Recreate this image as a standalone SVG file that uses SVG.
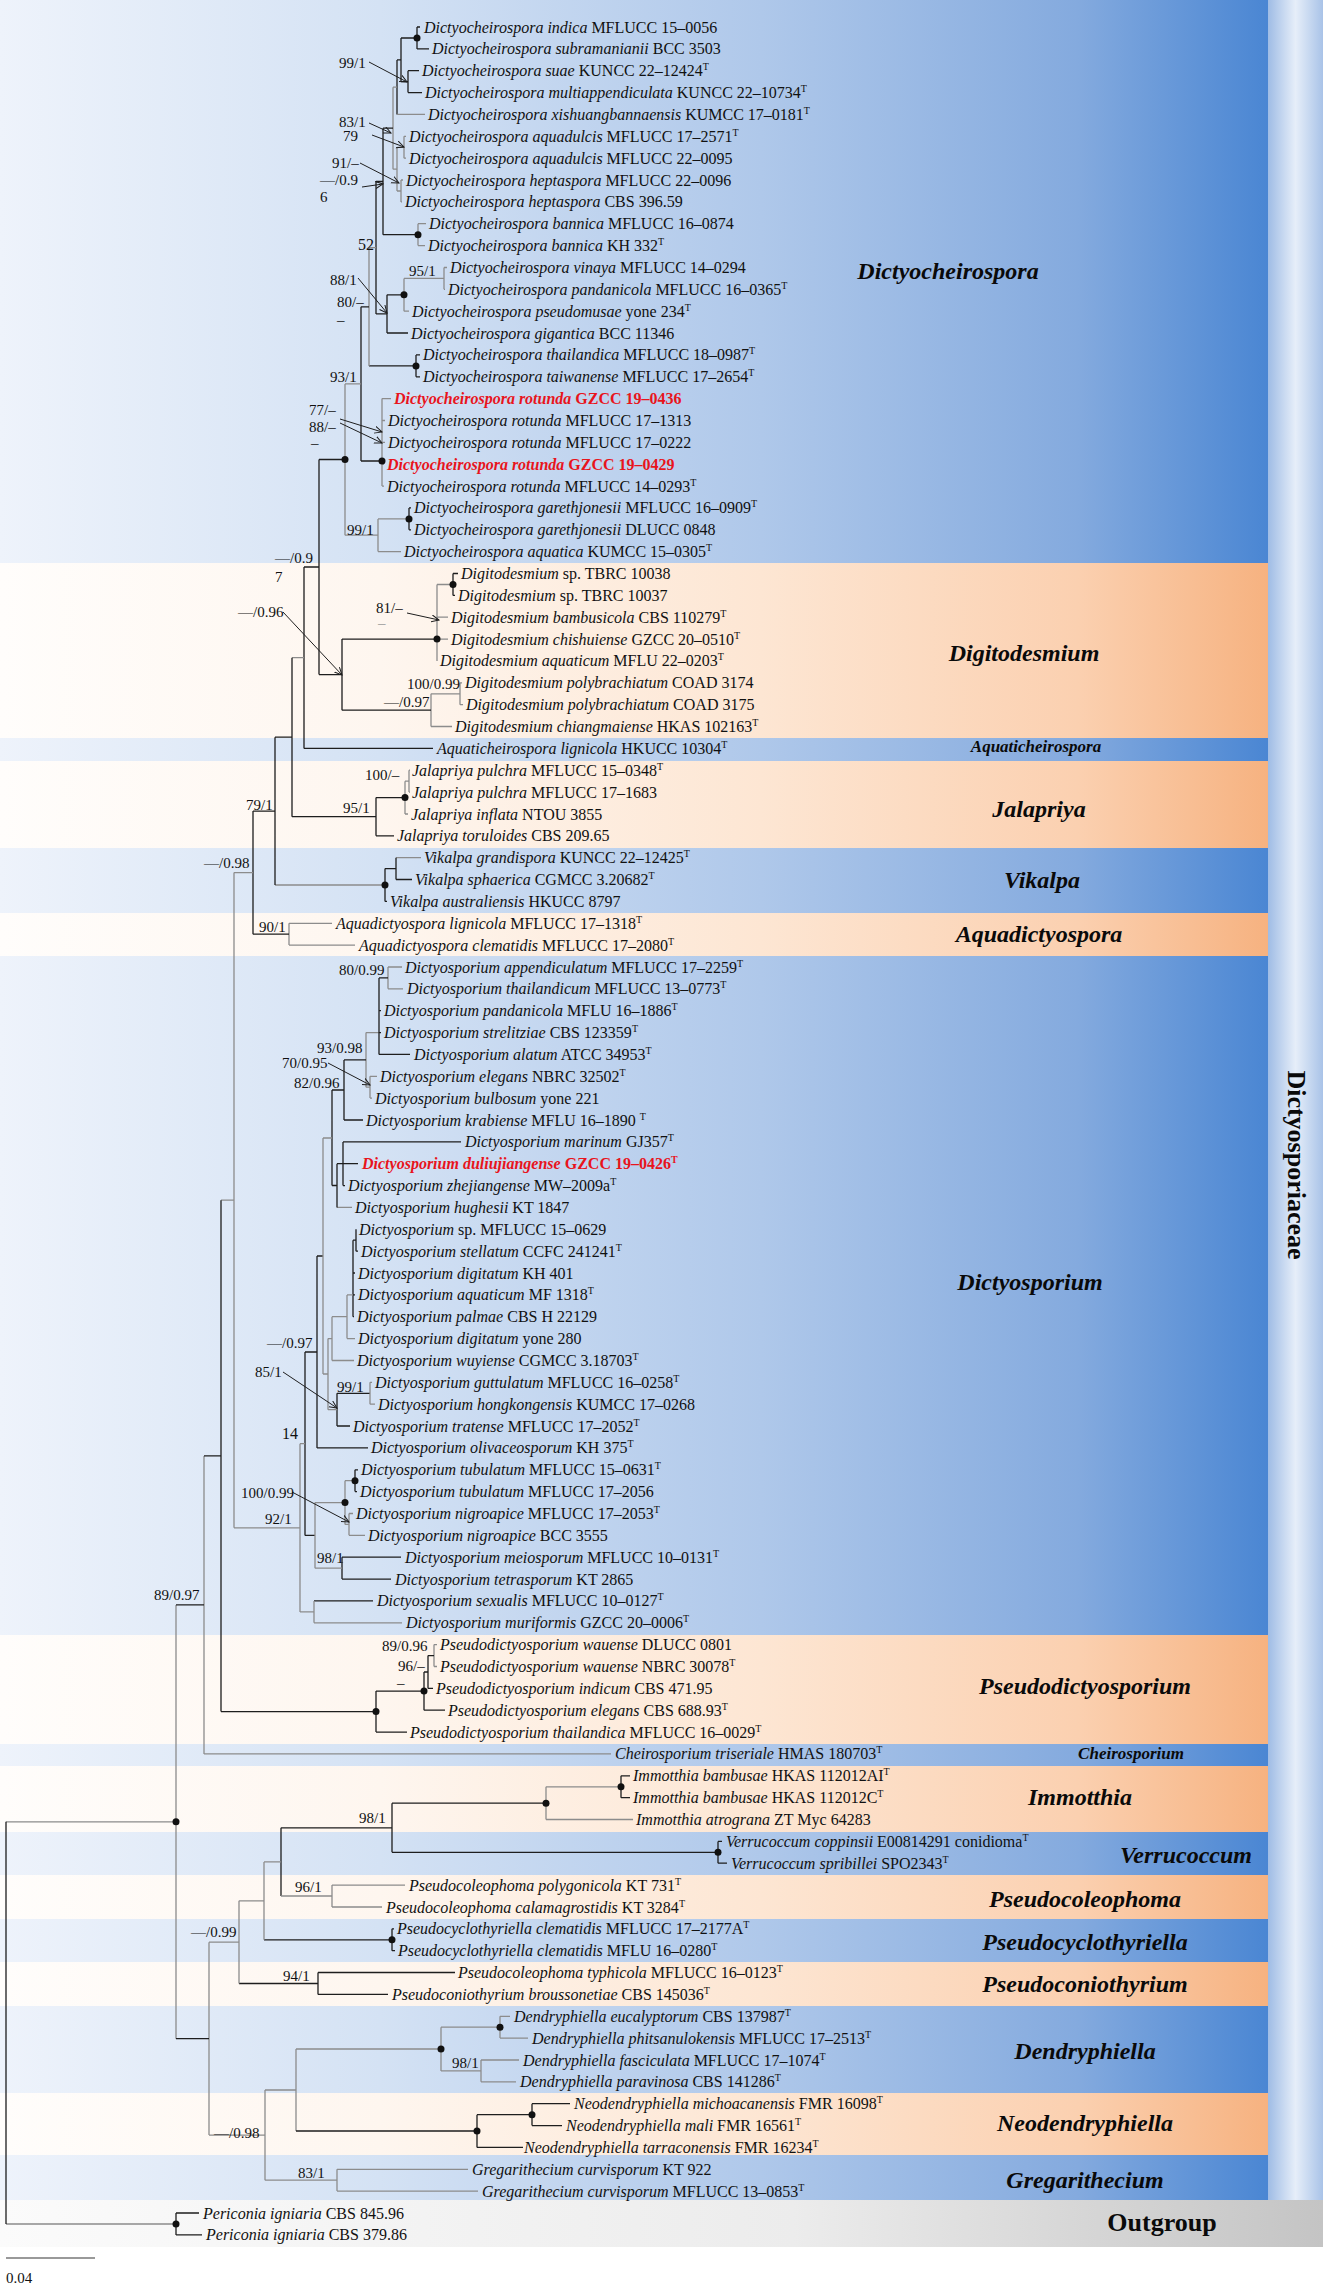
<svg xmlns="http://www.w3.org/2000/svg" width="1323" height="2285" viewBox="0 0 1323 2285">
<defs>
<linearGradient id="gb" gradientUnits="userSpaceOnUse" x1="0" y1="0" x2="1268" y2="0">
<stop offset="0" stop-color="#eef3fb"/><stop offset="0.3" stop-color="#d4e2f4"/><stop offset="0.6" stop-color="#afc8ea"/><stop offset="0.85" stop-color="#84aade"/><stop offset="1" stop-color="#4a86d3"/>
</linearGradient>
<linearGradient id="go" gradientUnits="userSpaceOnUse" x1="0" y1="0" x2="1268" y2="0">
<stop offset="0" stop-color="#fffdfb"/><stop offset="0.3" stop-color="#fef6ef"/><stop offset="0.6" stop-color="#fde6d3"/><stop offset="0.85" stop-color="#fbd0b0"/><stop offset="1" stop-color="#f6b280"/>
</linearGradient>
<linearGradient id="gg" gradientUnits="userSpaceOnUse" x1="0" y1="0" x2="1323" y2="0">
<stop offset="0" stop-color="#fbfbfb"/><stop offset="0.6" stop-color="#ececec"/><stop offset="1" stop-color="#c4c4c4"/>
</linearGradient>
<linearGradient id="gf" gradientUnits="userSpaceOnUse" x1="1268" y1="0" x2="1323" y2="0">
<stop offset="0" stop-color="#9fbce5"/><stop offset="0.5" stop-color="#e6eef9"/><stop offset="1" stop-color="#a9c3e8"/>
</linearGradient>
<marker id="ah" markerWidth="9" markerHeight="9" refX="7.5" refY="4" orient="auto" markerUnits="userSpaceOnUse">
<path d="M0,0.5 L7.5,4 L0,7.5" fill="none" stroke="#1e1e1e" stroke-width="1"/>
</marker>
<style>
.t{font-family:"Liberation Serif","Times New Roman",serif;font-size:16px;fill:#111}
.i{font-style:italic}
.r{fill:#e8141c;font-weight:bold}
.s{font-family:"Liberation Serif","Times New Roman",serif;font-size:15px;fill:#111}
.k{stroke:#1e1e1e;stroke-width:1.3;fill:none}
.g{stroke:#8c8c8c;stroke-width:1.3;fill:none}
.a{stroke:#1e1e1e;stroke-width:1;fill:none;marker-end:url(#ah)}
.c{font-family:"Liberation Serif","Times New Roman",serif;font-weight:bold;font-style:italic;font-size:24px;fill:#0a0a0a;text-anchor:middle}
.cs{font-size:17px}
.sup{font-size:10px}
</style>
</defs>

<g id="bands">
<rect x="0" y="0" width="1268" height="563" fill="url(#gb)"/>
<rect x="0" y="563" width="1268" height="175" fill="url(#go)"/>
<rect x="0" y="738" width="1268" height="23" fill="url(#gb)"/>
<rect x="0" y="761" width="1268" height="87" fill="url(#go)"/>
<rect x="0" y="848" width="1268" height="65" fill="url(#gb)"/>
<rect x="0" y="913" width="1268" height="43" fill="url(#go)"/>
<rect x="0" y="956" width="1268" height="679" fill="url(#gb)"/>
<rect x="0" y="1635" width="1268" height="109" fill="url(#go)"/>
<rect x="0" y="1744" width="1268" height="22" fill="url(#gb)"/>
<rect x="0" y="1766" width="1268" height="66" fill="url(#go)"/>
<rect x="0" y="1832" width="1268" height="43" fill="url(#gb)"/>
<rect x="0" y="1875" width="1268" height="44" fill="url(#go)"/>
<rect x="0" y="1919" width="1268" height="43" fill="url(#gb)"/>
<rect x="0" y="1962" width="1268" height="44" fill="url(#go)"/>
<rect x="0" y="2006" width="1268" height="87" fill="url(#gb)"/>
<rect x="0" y="2093" width="1268" height="62" fill="url(#go)"/>
<rect x="0" y="2155" width="1268" height="45" fill="url(#gb)"/>
<rect x="0" y="2200" width="1323" height="47" fill="url(#gg)"/>
<rect x="1268" y="0" width="55" height="2200" fill="url(#gf)"/>
</g>

<g id="connectors" transform="translate(0,2)">
<path class="k" d="M417,25V46.9M417,25H420M417,46.9H429M408,68.7V90.6M408,68.7H419M408,90.6H422M401,36V79.7M401,36H417M401,79.7H408M397,57.9V112.4M397,57.9H401"/>
<path class="g" d="M397,112.4H425M404,134.3V156.2M404,134.3H406M404,156.2H406M401,178V199.9M401,178H403M401,199.9H402M397,145.3V189M397,145.3H404M397,189H401M393,85.2V167.2M393,85.2H397M393,167.2H397M418,221.7V243.6M418,221.7H426M418,243.6H425"/>
<path class="k" d="M383,126.2V232.7M383,126.2H393M383,232.7H418"/>
<path class="g" d="M444,265.5V287.3M444,265.5H447M444,287.3H445M404,276.4V309.2M404,276.4H444M404,309.2H409"/>
<path class="k" d="M387,292.8V331M387,292.8H404M387,331H408M376,179.5V311.9M376,179.5H383M376,311.9H387M416,352.9V374.8M416,352.9H420M416,374.8H420M369,363.9H416"/>
<path class="g" d="M369,245.7V363.9M369,245.7H376M382,396.6V484.1M382,396.6H391M382,418.5H385M382,440.3H385M382,462.2H384M382,484.1H384"/>
<path class="k" d="M361,304.8V459M361,304.8H369M361,459H382M409,505.9V527.8M409,505.9H411M409,527.8H411"/>
<path class="g" d="M378,516.9V549.6M378,516.9H409M378,549.6H401M345,381.9V533.2M345,381.9H361M345,533.2H378"/>
<path class="k" d="M453,571.5V593.4M453,571.5H458M453,593.4H455"/>
<path class="g" d="M437,582.5V658.9M437,582.5H453M437,615.2H448M437,637.1H448M460,680.8V702.7M460,680.8H462M460,702.7H463M431,691.8V724.5M431,691.8H460M431,724.5H452"/>
<path class="k" d="M342,637.1V708.2M342,637.1H437M342,708.2H431M319,457.5V672.6M319,457.5H345M319,672.6H342M304,565V746.4M304,565H319M304,746.4H433"/>
<path class="g" d="M409,768.2V790.1M409,768.2H410M409,790.1H410M405,779.2V812M405,779.2H409M405,812H408M292,655.7H304M396,855.7H421M275,883H385M289,921.3V943.1M289,921.3H332M289,943.1H355"/>
<path class="k" d="M376,795.6V833.8M376,795.6H405M376,833.8H394M292,655.7V814.7M292,814.7H376M396,855.7V877.5M396,877.5H412M385,866.6V899.4M385,866.6H396M385,899.4H387M275,735.2V883M275,735.2H292M253,809.1V932.2M253,809.1H275M253,932.2H289"/>
<path class="g" d="M388,965V986.8M388,965H402M388,986.8H403M370,1074.3V1096.1M370,1074.3H377M370,1096.1H372M366,1030.6V1085.2M366,1030.6H379M366,1085.2H370M337,1205.4H352"/>
<path class="k" d="M379,975.9V1052.4M379,975.9H388M379,1008.7H381M379,1030.6H381M379,1052.4H410M344,1057.9V1118M344,1057.9H366M344,1118H363M343,1139.9V1183.6M343,1139.9H461M343,1161.7H358M343,1183.6H345M337,1161.7V1205.4M337,1161.7H343M332,1088V1183.5M332,1088H344M332,1183.5H337"/>
<path class="k" d="M356,1227.3V1249.2M356,1249.2H358M353,1238.2V1314.7M353,1238.2H356M353,1271H355M353,1292.9H355M353,1314.7H354M337,1391.3V1424M337,1391.3H370M337,1424H350M317,1254V1445.9M317,1254H323M317,1445.9H368"/>
<path class="g" d="M347,1292.9V1336.6M347,1292.9H353M347,1336.6H355M332,1314.7V1358.5M332,1314.7H347M332,1358.5H354M370,1380.3V1402.2M370,1380.3H372M370,1402.2H375M328,1336.6V1407.7M328,1336.6H332M328,1407.7H337M323,1136V1372M323,1136H332M323,1372H328"/>
<path class="k" d="M355,1467.8V1489.6M355,1467.8H358M355,1489.6H357M342,1555.2V1577.1M342,1555.2H401M342,1577.1H391M305,1350V1533.4M305,1350H317M305,1533.4H315M314,1598.9H373"/>
<path class="g" d="M349,1511.5V1533.3M349,1511.5H353M349,1533.3H365M345,1478.7V1522.4M345,1478.7H355M345,1522.4H349M315,1500.6V1566.2M315,1500.6H345M315,1566.2H342M314,1598.9V1620.8M314,1620.8H402M300,1441.7V1609.9M300,1441.7H305M300,1609.9H314M234,870.6V1525.8M234,870.6H253M234,1525.8H300"/>
<path class="g" d="M434,1642.6V1664.5M434,1642.6H437M434,1664.5H437M221,1198.2H234M204,1453.9V1751.9M204,1751.9H611"/>
<path class="k" d="M428,1653.6V1686.4M428,1653.6H434M428,1686.4H433M424,1670V1708.2M424,1670H428M424,1708.2H445M376,1689.1V1730.1M376,1689.1H424M376,1730.1H407M221,1198.2V1709.6M221,1709.6H376M204,1453.9H221"/>
<path class="k" d="M621,1773.8V1795.7M621,1773.8H630M621,1795.7H630M718,1839.4V1861.2M718,1839.4H722M718,1861.2H727M392,1801.2V1850.3M392,1801.2H546M392,1850.3H718M281,1825.8V1894M281,1825.8H392M392,1926.8V1948.7M392,1926.8H394M392,1948.7H395M264,1937.8H392M318,1970.5V1992.4M318,1970.5H455M318,1992.4H388M239,1981.5H318"/>
<path class="g" d="M546,1784.8V1817.5M546,1784.8H621M546,1817.5H633M332,1883.1V1905M332,1883.1H405M332,1905H382M281,1894H332M264,1859.9V1937.8M264,1859.9H281M239,1898.8V1981.5M239,1898.8H264"/>
<path class="g" d="M500,2014.3V2036.1M500,2014.3H510M500,2036.1H528M481,2058V2079.8M481,2058H519M481,2079.8H516M441,2025.2V2068.9M441,2025.2H500M441,2068.9H481M296,2047V2129M296,2047H441M337,2167.3V2189.1M337,2167.3H468M337,2189.1H478M265,2088V2178.2M265,2088H296M265,2178.2H337M209,1940.2V2133.1M209,1940.2H239M209,2133.1H265M176,1602.9V2036.7M6,1819.8H176M6,2222H176"/>
<path class="k" d="M532,2101.7V2123.6M532,2101.7H570M532,2123.6H562M477,2112.7V2145.4M477,2112.7H532M477,2145.4H523M296,2129H477M176,1602.9H204M176,2036.7H209M176,2211V2232.9M176,2211H199M176,2232.9H202M6,1819.8V2222"/>
<g fill="#111">
<circle cx="417" cy="36" r="3.5"/><circle cx="418" cy="232.7" r="3.5"/><circle cx="404" cy="292.8" r="3.5"/><circle cx="416" cy="363.9" r="3.5"/><circle cx="382" cy="459" r="3.5"/><circle cx="345" cy="457.5" r="3.5"/><circle cx="409" cy="516.9" r="3.5"/><circle cx="453" cy="582.5" r="3.5"/><circle cx="437" cy="637.1" r="3.5"/><circle cx="405" cy="795.6" r="3.5"/><circle cx="385" cy="883" r="3.5"/><circle cx="355" cy="1478.7" r="3.5"/><circle cx="345" cy="1500.6" r="3.5"/><circle cx="424" cy="1689" r="3.5"/><circle cx="376" cy="1709.6" r="3.5"/><circle cx="621" cy="1784.8" r="3.5"/><circle cx="546" cy="1801.2" r="3.5"/><circle cx="718" cy="1850.3" r="3.5"/><circle cx="392" cy="1937.8" r="3.5"/><circle cx="500" cy="2025.2" r="3.5"/><circle cx="441" cy="2047" r="3.5"/><circle cx="532" cy="2112.7" r="3.5"/><circle cx="477" cy="2129" r="3.5"/><circle cx="176" cy="2222" r="3.5"/><circle cx="176" cy="1819.8" r="3.5"/>
</g>
<path class="a" d="M369,60L407,80"/>
<path class="a" d="M369,121L391,131"/>
<path class="a" d="M372,133L404,145"/>
<path class="a" d="M360,161L399,181"/>
<path class="a" d="M362,185L383,182"/>
<path class="a" d="M358,276L387,311"/>
<path class="a" d="M340,417L382,430"/>
<path class="a" d="M340,421L382,441"/>
<path class="a" d="M407,611L439,618"/>
<path class="a" d="M283,610L342,673"/>
<path class="a" d="M328,1061L370,1083"/>
<path class="a" d="M283,1370L337,1406"/>
<path class="a" d="M292,1490L349,1520"/>
</g>

<g id="taxa" class="t" transform="translate(0,2)">
<text x="424" y="30.5"><tspan class="i">Dictyocheirospora indica</tspan> MFLUCC 15–0056</text>
<text x="432" y="52.4"><tspan class="i">Dictyocheirospora subramanianii</tspan> BCC 3503</text>
<text x="422" y="74.2"><tspan class="i">Dictyocheirospora suae</tspan> KUNCC 22–12424<tspan class="sup" dy="-6">T</tspan></text>
<text x="425" y="96.1"><tspan class="i">Dictyocheirospora multiappendiculata</tspan> KUNCC 22–10734<tspan class="sup" dy="-6">T</tspan></text>
<text x="428" y="117.9"><tspan class="i">Dictyocheirospora xishuangbannaensis</tspan> KUMCC 17–0181<tspan class="sup" dy="-6">T</tspan></text>
<text x="409" y="139.8"><tspan class="i">Dictyocheirospora aquadulcis</tspan> MFLUCC 17–2571<tspan class="sup" dy="-6">T</tspan></text>
<text x="409" y="161.7"><tspan class="i">Dictyocheirospora aquadulcis</tspan> MFLUCC 22–0095</text>
<text x="406" y="183.5"><tspan class="i">Dictyocheirospora heptaspora</tspan> MFLUCC 22–0096</text>
<text x="405" y="205.4"><tspan class="i">Dictyocheirospora heptaspora</tspan> CBS 396.59</text>
<text x="429" y="227.2"><tspan class="i">Dictyocheirospora bannica</tspan> MFLUCC 16–0874</text>
<text x="428" y="249.1"><tspan class="i">Dictyocheirospora bannica</tspan> KH 332<tspan class="sup" dy="-6">T</tspan></text>
<text x="450" y="271"><tspan class="i">Dictyocheirospora vinaya</tspan> MFLUCC 14–0294</text>
<text x="448" y="292.8"><tspan class="i">Dictyocheirospora pandanicola</tspan> MFLUCC 16–0365<tspan class="sup" dy="-6">T</tspan></text>
<text x="412" y="314.7"><tspan class="i">Dictyocheirospora pseudomusae</tspan> yone 234<tspan class="sup" dy="-6">T</tspan></text>
<text x="411" y="336.5"><tspan class="i">Dictyocheirospora gigantica</tspan> BCC 11346</text>
<text x="423" y="358.4"><tspan class="i">Dictyocheirospora thailandica</tspan> MFLUCC 18–0987<tspan class="sup" dy="-6">T</tspan></text>
<text x="423" y="380.3"><tspan class="i">Dictyocheirospora taiwanense</tspan> MFLUCC 17–2654<tspan class="sup" dy="-6">T</tspan></text>
<text x="394" y="402.1" class="r"><tspan class="i">Dictyocheirospora rotunda</tspan> GZCC 19–0436</text>
<text x="388" y="424"><tspan class="i">Dictyocheirospora rotunda</tspan> MFLUCC 17–1313</text>
<text x="388" y="445.8"><tspan class="i">Dictyocheirospora rotunda</tspan> MFLUCC 17–0222</text>
<text x="387" y="467.7" class="r"><tspan class="i">Dictyocheirospora rotunda</tspan> GZCC 19–0429</text>
<text x="387" y="489.6"><tspan class="i">Dictyocheirospora rotunda</tspan> MFLUCC 14–0293<tspan class="sup" dy="-6">T</tspan></text>
<text x="414" y="511.4"><tspan class="i">Dictyocheirospora garethjonesii</tspan> MFLUCC 16–0909<tspan class="sup" dy="-6">T</tspan></text>
<text x="414" y="533.3"><tspan class="i">Dictyocheirospora garethjonesii</tspan> DLUCC 0848</text>
<text x="404" y="555.1"><tspan class="i">Dictyocheirospora aquatica</tspan> KUMCC 15–0305<tspan class="sup" dy="-6">T</tspan></text>
<text x="461" y="577"><tspan class="i">Digitodesmium</tspan> sp. TBRC 10038</text>
<text x="458" y="598.9"><tspan class="i">Digitodesmium</tspan> sp. TBRC 10037</text>
<text x="451" y="620.7"><tspan class="i">Digitodesmium bambusicola</tspan> CBS 110279<tspan class="sup" dy="-6">T</tspan></text>
<text x="451" y="642.6"><tspan class="i">Digitodesmium chishuiense</tspan> GZCC 20–0510<tspan class="sup" dy="-6">T</tspan></text>
<text x="440" y="664.4"><tspan class="i">Digitodesmium aquaticum</tspan> MFLU 22–0203<tspan class="sup" dy="-6">T</tspan></text>
<text x="465" y="686.3"><tspan class="i">Digitodesmium polybrachiatum</tspan> COAD 3174</text>
<text x="466" y="708.2"><tspan class="i">Digitodesmium polybrachiatum</tspan> COAD 3175</text>
<text x="455" y="730"><tspan class="i">Digitodesmium chiangmaiense</tspan> HKAS 102163<tspan class="sup" dy="-6">T</tspan></text>
<text x="437" y="751.9"><tspan class="i">Aquaticheirospora lignicola</tspan> HKUCC 10304<tspan class="sup" dy="-6">T</tspan></text>
<text x="412" y="773.7"><tspan class="i">Jalapriya pulchra</tspan> MFLUCC 15–0348<tspan class="sup" dy="-6">T</tspan></text>
<text x="412" y="795.6"><tspan class="i">Jalapriya pulchra</tspan> MFLUCC 17–1683</text>
<text x="411" y="817.5"><tspan class="i">Jalapriya inflata</tspan> NTOU 3855</text>
<text x="397" y="839.3"><tspan class="i">Jalapriya toruloides</tspan> CBS 209.65</text>
<text x="424" y="861.2"><tspan class="i">Vikalpa grandispora</tspan> KUNCC 22–12425<tspan class="sup" dy="-6">T</tspan></text>
<text x="415" y="883"><tspan class="i">Vikalpa sphaerica</tspan> CGMCC 3.20682<tspan class="sup" dy="-6">T</tspan></text>
<text x="390" y="904.9"><tspan class="i">Vikalpa australiensis</tspan> HKUCC 8797</text>
<text x="336" y="926.8"><tspan class="i">Aquadictyospora lignicola</tspan> MFLUCC 17–1318<tspan class="sup" dy="-6">T</tspan></text>
<text x="359" y="948.6"><tspan class="i">Aquadictyospora clematidis</tspan> MFLUCC 17–2080<tspan class="sup" dy="-6">T</tspan></text>
<text x="405" y="970.5"><tspan class="i">Dictyosporium appendiculatum</tspan> MFLUCC 17–2259<tspan class="sup" dy="-6">T</tspan></text>
<text x="407" y="992.3"><tspan class="i">Dictyosporium thailandicum</tspan> MFLUCC 13–0773<tspan class="sup" dy="-6">T</tspan></text>
<text x="384" y="1014.2"><tspan class="i">Dictyosporium pandanicola</tspan> MFLU 16–1886<tspan class="sup" dy="-6">T</tspan></text>
<text x="384" y="1036.1"><tspan class="i">Dictyosporium strelitziae</tspan> CBS 123359<tspan class="sup" dy="-6">T</tspan></text>
<text x="414" y="1057.9"><tspan class="i">Dictyosporium alatum</tspan> ATCC 34953<tspan class="sup" dy="-6">T</tspan></text>
<text x="380" y="1079.8"><tspan class="i">Dictyosporium elegans</tspan> NBRC 32502<tspan class="sup" dy="-6">T</tspan></text>
<text x="375" y="1101.6"><tspan class="i">Dictyosporium bulbosum</tspan> yone 221</text>
<text x="366" y="1123.5"><tspan class="i">Dictyosporium krabiense</tspan> MFLU 16–1890 <tspan class="sup" dy="-6">T</tspan></text>
<text x="465" y="1145.4"><tspan class="i">Dictyosporium marinum</tspan> GJ357<tspan class="sup" dy="-6">T</tspan></text>
<text x="362" y="1167.2" class="r"><tspan class="i">Dictyosporium duliujiangense</tspan> GZCC 19–0426<tspan class="sup" dy="-6">T</tspan></text>
<text x="348" y="1189.1"><tspan class="i">Dictyosporium zhejiangense</tspan> MW–2009a<tspan class="sup" dy="-6">T</tspan></text>
<text x="355" y="1210.9"><tspan class="i">Dictyosporium hughesii</tspan> KT 1847</text>
<text x="359" y="1232.8"><tspan class="i">Dictyosporium</tspan> sp. MFLUCC 15–0629</text>
<text x="361" y="1254.7"><tspan class="i">Dictyosporium stellatum</tspan> CCFC 241241<tspan class="sup" dy="-6">T</tspan></text>
<text x="358" y="1276.5"><tspan class="i">Dictyosporium digitatum</tspan> KH 401</text>
<text x="358" y="1298.4"><tspan class="i">Dictyosporium aquaticum</tspan> MF 1318<tspan class="sup" dy="-6">T</tspan></text>
<text x="357" y="1320.2"><tspan class="i">Dictyosporium palmae</tspan> CBS H 22129</text>
<text x="358" y="1342.1"><tspan class="i">Dictyosporium digitatum</tspan> yone 280</text>
<text x="357" y="1364"><tspan class="i">Dictyosporium wuyiense</tspan> CGMCC 3.18703<tspan class="sup" dy="-6">T</tspan></text>
<text x="375" y="1385.8"><tspan class="i">Dictyosporium guttulatum</tspan> MFLUCC 16–0258<tspan class="sup" dy="-6">T</tspan></text>
<text x="378" y="1407.7"><tspan class="i">Dictyosporium hongkongensis</tspan> KUMCC 17–0268</text>
<text x="353" y="1429.5"><tspan class="i">Dictyosporium tratense</tspan> MFLUCC 17–2052<tspan class="sup" dy="-6">T</tspan></text>
<text x="371" y="1451.4"><tspan class="i">Dictyosporium olivaceosporum</tspan> KH 375<tspan class="sup" dy="-6">T</tspan></text>
<text x="361" y="1473.3"><tspan class="i">Dictyosporium tubulatum</tspan> MFLUCC 15–0631<tspan class="sup" dy="-6">T</tspan></text>
<text x="360" y="1495.1"><tspan class="i">Dictyosporium tubulatum</tspan> MFLUCC 17–2056</text>
<text x="356" y="1517"><tspan class="i">Dictyosporium nigroapice</tspan> MFLUCC 17–2053<tspan class="sup" dy="-6">T</tspan></text>
<text x="368" y="1538.8"><tspan class="i">Dictyosporium nigroapice</tspan> BCC 3555</text>
<text x="405" y="1560.7"><tspan class="i">Dictyosporium meiosporum</tspan> MFLUCC 10–0131<tspan class="sup" dy="-6">T</tspan></text>
<text x="395" y="1582.6"><tspan class="i">Dictyosporium tetrasporum</tspan> KT 2865</text>
<text x="377" y="1604.4"><tspan class="i">Dictyosporium sexualis</tspan> MFLUCC 10–0127<tspan class="sup" dy="-6">T</tspan></text>
<text x="406" y="1626.3"><tspan class="i">Dictyosporium muriformis</tspan> GZCC 20–0006<tspan class="sup" dy="-6">T</tspan></text>
<text x="440" y="1648.1"><tspan class="i">Pseudodictyosporium wauense</tspan> DLUCC 0801</text>
<text x="440" y="1670"><tspan class="i">Pseudodictyosporium wauense</tspan> NBRC 30078<tspan class="sup" dy="-6">T</tspan></text>
<text x="436" y="1691.9"><tspan class="i">Pseudodictyosporium indicum</tspan> CBS 471.95</text>
<text x="448" y="1713.7"><tspan class="i">Pseudodictyosporium elegans</tspan> CBS 688.93<tspan class="sup" dy="-6">T</tspan></text>
<text x="410" y="1735.6"><tspan class="i">Pseudodictyosporium thailandica</tspan> MFLUCC 16–0029<tspan class="sup" dy="-6">T</tspan></text>
<text x="615" y="1757.4"><tspan class="i">Cheirosporium triseriale</tspan> HMAS 180703<tspan class="sup" dy="-6">T</tspan></text>
<text x="633" y="1779.3"><tspan class="i">Immotthia bambusae</tspan> HKAS 112012AI<tspan class="sup" dy="-6">T</tspan></text>
<text x="633" y="1801.2"><tspan class="i">Immotthia bambusae</tspan> HKAS 112012C<tspan class="sup" dy="-6">T</tspan></text>
<text x="636" y="1823"><tspan class="i">Immotthia atrograna</tspan> ZT Myc 64283</text>
<text x="726" y="1844.9"><tspan class="i">Verrucoccum coppinsii</tspan> E00814291 conidioma<tspan class="sup" dy="-6">T</tspan></text>
<text x="731" y="1866.7"><tspan class="i">Verrucoccum spribillei</tspan> SPO2343<tspan class="sup" dy="-6">T</tspan></text>
<text x="409" y="1888.6"><tspan class="i">Pseudocoleophoma polygonicola</tspan> KT 731<tspan class="sup" dy="-6">T</tspan></text>
<text x="386" y="1910.5"><tspan class="i">Pseudocoleophoma calamagrostidis</tspan> KT 3284<tspan class="sup" dy="-6">T</tspan></text>
<text x="397" y="1932.3"><tspan class="i">Pseudocyclothyriella clematidis</tspan> MFLUCC 17–2177A<tspan class="sup" dy="-6">T</tspan></text>
<text x="398" y="1954.2"><tspan class="i">Pseudocyclothyriella clematidis</tspan> MFLU 16–0280<tspan class="sup" dy="-6">T</tspan></text>
<text x="458" y="1976"><tspan class="i">Pseudocoleophoma typhicola</tspan> MFLUCC 16–0123<tspan class="sup" dy="-6">T</tspan></text>
<text x="392" y="1997.9"><tspan class="i">Pseudoconiothyrium broussonetiae</tspan> CBS 145036<tspan class="sup" dy="-6">T</tspan></text>
<text x="514" y="2019.8"><tspan class="i">Dendryphiella eucalyptorum</tspan> CBS 137987<tspan class="sup" dy="-6">T</tspan></text>
<text x="532" y="2041.6"><tspan class="i">Dendryphiella phitsanulokensis</tspan> MFLUCC 17–2513<tspan class="sup" dy="-6">T</tspan></text>
<text x="523" y="2063.5"><tspan class="i">Dendryphiella fasciculata</tspan> MFLUCC 17–1074<tspan class="sup" dy="-6">T</tspan></text>
<text x="520" y="2085.3"><tspan class="i">Dendryphiella paravinosa</tspan> CBS 141286<tspan class="sup" dy="-6">T</tspan></text>
<text x="574" y="2107.2"><tspan class="i">Neodendryphiella michoacanensis</tspan> FMR 16098<tspan class="sup" dy="-6">T</tspan></text>
<text x="566" y="2129.1"><tspan class="i">Neodendryphiella mali</tspan> FMR 16561<tspan class="sup" dy="-6">T</tspan></text>
<text x="524" y="2150.9"><tspan class="i">Neodendryphiella tarraconensis</tspan> FMR 16234<tspan class="sup" dy="-6">T</tspan></text>
<text x="472" y="2172.8"><tspan class="i">Gregarithecium curvisporum</tspan> KT 922</text>
<text x="482" y="2194.6"><tspan class="i">Gregarithecium curvisporum</tspan> MFLUCC 13–0853<tspan class="sup" dy="-6">T</tspan></text>
<text x="203" y="2216.5"><tspan class="i">Periconia igniaria</tspan> CBS 845.96</text>
<text x="206" y="2238.4"><tspan class="i">Periconia igniaria</tspan> CBS 379.86</text>
</g>

<g id="support" class="s">
<text x="339" y="68">99/1</text>
<text x="339" y="127">83/1</text>
<text x="343" y="141">79</text>
<text x="332" y="168">91/–</text>
<text x="320" y="185">—/0.9</text>
<text x="320" y="202">6</text>
<text x="358" y="250" font-size="16">52</text>
<text x="409" y="276">95/1</text>
<text x="330" y="285">88/1</text>
<text x="337" y="307">80/–</text>
<text x="337" y="325">–</text>
<text x="330" y="382">93/1</text>
<text x="309" y="415">77/–</text>
<text x="309" y="432">88/–</text>
<text x="311" y="448">–</text>
<text x="347" y="535">99/1</text>
<text x="275" y="563">—/0.9</text>
<text x="275" y="582">7</text>
<text x="376" y="613">81/–</text>
<text x="378" y="628" fill="#999">–</text>
<text x="238" y="617">—/0.96</text>
<text x="407" y="689">100/0.99</text>
<text x="384" y="707">—/0.97</text>
<text x="365" y="780">100/–</text>
<text x="246" y="810">79/1</text>
<text x="343" y="813">95/1</text>
<text x="204" y="868">—/0.98</text>
<text x="259" y="932">90/1</text>
<text x="339" y="975">80/0.99</text>
<text x="317" y="1053">93/0.98</text>
<text x="282" y="1068">70/0.95</text>
<text x="294" y="1088">82/0.96</text>
<text x="267" y="1348">—/0.97</text>
<text x="255" y="1377">85/1</text>
<text x="337" y="1392">99/1</text>
<text x="282" y="1439" font-size="16">14</text>
<text x="241" y="1498">100/0.99</text>
<text x="265" y="1524">92/1</text>
<text x="317" y="1563">98/1</text>
<text x="154" y="1600">89/0.97</text>
<text x="382" y="1651">89/0.96</text>
<text x="398" y="1671">96/–</text>
<text x="397" y="1688">–</text>
<text x="359" y="1823">98/1</text>
<text x="295" y="1892">96/1</text>
<text x="191" y="1937">—/0.99</text>
<text x="283" y="1981">94/1</text>
<text x="452" y="2068">98/1</text>
<text x="214" y="2138">—/0.98</text>
<text x="298" y="2178">83/1</text>
</g>

<g id="clades">
<g id="c-dictyocheirospora"><text class="c" x="948" y="279" font-size="26">Dictyocheirospora</text></g>
<g id="c-digitodesmium"><text class="c" x="1024" y="661">Digitodesmium</text></g>
<g id="c-aquaticheirospora"><text class="c cs" x="1036" y="752">Aquaticheirospora</text></g>
<g id="c-jalapriya"><text class="c" x="1039" y="817">Jalapriya</text></g>
<g id="c-vikalpa"><text class="c" x="1042" y="888">Vikalpa</text></g>
<g id="c-aquadictyospora"><text class="c" x="1039" y="942">Aquadictyospora</text></g>
<g id="c-dictyosporium"><text class="c" x="1030" y="1290" font-size="25">Dictyosporium</text></g>
<g id="c-pseudodictyosporium"><text class="c" x="1085" y="1694">Pseudodictyosporium</text></g>
<g id="c-cheirosporium"><text class="c cs" x="1131" y="1759">Cheirosporium</text></g>
<g id="c-immotthia"><text class="c" x="1080" y="1805">Immotthia</text></g>
<g id="c-verrucoccum"><text class="c" x="1186" y="1863" font-size="19">Verrucoccum</text></g>
<g id="c-pseudocoleophoma"><text class="c" x="1085" y="1907">Pseudocoleophoma</text></g>
<g id="c-pseudocyclothyriella"><text class="c" x="1085" y="1950">Pseudocyclothyriella</text></g>
<g id="c-pseudoconiothyrium"><text class="c" x="1085" y="1992">Pseudoconiothyrium</text></g>
<g id="c-dendryphiella"><text class="c" x="1085" y="2059">Dendryphiella</text></g>
<g id="c-neodendryphiella"><text class="c" x="1085" y="2131">Neodendryphiella</text></g>
<g id="c-gregarithecium"><text class="c" x="1085" y="2188">Gregarithecium</text></g>
<g id="c-outgroup"><text x="1162" y="2231" font-family="Liberation Serif, serif" font-weight="bold" font-size="26" text-anchor="middle" fill="#0a0a0a">Outgroup</text></g>
<g id="c-family"><text x="1296" y="1165" transform="rotate(90 1296 1165)" font-family="Liberation Serif, serif" font-weight="bold" font-size="26" text-anchor="middle" dominant-baseline="central" fill="#0a0a0a">Dictyosporiaceae</text></g>
</g>

<g id="scale">
<path d="M6,2258H95" stroke="#777" stroke-width="1.5"/>
<text x="6" y="2283" class="s">0.04</text>
</g>
</svg>
